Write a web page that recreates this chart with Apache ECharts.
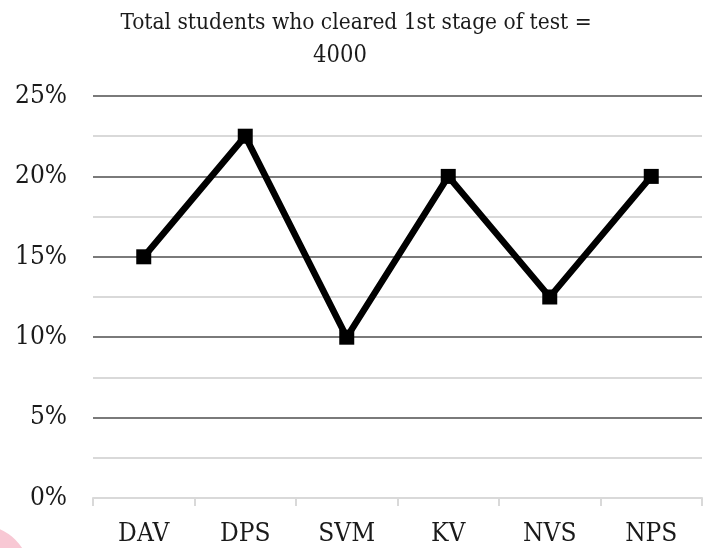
<!DOCTYPE html>
<html>
<head>
<meta charset="utf-8">
<script src="https://cdn.jsdelivr.net/npm/echarts@6/dist/echarts.min.js"></script>
<style>
  html, body { margin: 0; padding: 0; background: #fff; }
  #main { width: 710px; height: 548px; }
</style>
</head>
<body>
<div id="main"></div>
<script>
// schools and share of students (%)
var schools = ['DAV', 'DPS', 'SVM', 'KV', 'NVS', 'NPS'];
var percentValues = [15, 22.5, 10, 20, 12.5, 20];
var titleLines = ['Total students who cleared 1st stage of test =', '4000'];

var chart = echarts.init(document.getElementById('main'));
var serif = '"DejaVu Serif Condensed", "DejaVu Serif", serif';

var option = {
    animation: false,
    backgroundColor: '#ffffff',
    title: [
        {
            text: titleLines[0],
            left: 351, top: 7, textAlign: 'center',
            textStyle: {fontFamily: serif, fontSize: 22.5, fontWeight: 'normal', color: '#1a1a1a'}
        },
        {
            text: titleLines[1],
            left: 335, top: 39, textAlign: 'center',
            textStyle: {fontFamily: serif, fontSize: 23.5, fontWeight: 'normal', color: '#1a1a1a'}
        }
    ],
    grid: {left: 93, right: 8, top: 96, bottom: 50},
    xAxis: {
        type: 'category',
        data: schools,
        boundaryGap: true,
        axisLine: {lineStyle: {color: '#d9d9d9', width: 2}},
        axisTick: {show: true, length: 8, lineStyle: {color: '#d9d9d9', width: 2}},
        axisLabel: {fontFamily: serif, fontSize: 26, color: '#1a1a1a', margin: 23}
    },
    yAxis: {
        type: 'value',
        min: 0, max: 25, interval: 5,
        axisLine: {show: false},
        axisTick: {show: false},
        axisLabel: {formatter: '{value}%', fontFamily: serif, fontSize: 26, color: '#1a1a1a', margin: 26},
        splitLine: {show: true, showMinLine: false, lineStyle: {color: '#7a7a7a', width: 2}},
        minorTick: {show: false, splitNumber: 2},
        minorSplitLine: {show: true, lineStyle: {color: '#d9d9d9', width: 2}}
    },
    series: [{
        type: 'line',
        data: percentValues,
        symbol: 'rect',
        symbolSize: 15,
        lineStyle: {color: '#000000', width: 6.5},
        itemStyle: {color: '#000000'},
        z: 5
    }],
    graphic: [{
        type: 'circle',
        shape: {cx: -20, cy: 575, r: 50},
        style: {fill: '#f8c8d4'},
        silent: true
    }]
};
chart.setOption(option);
</script>
</body>
</html>
